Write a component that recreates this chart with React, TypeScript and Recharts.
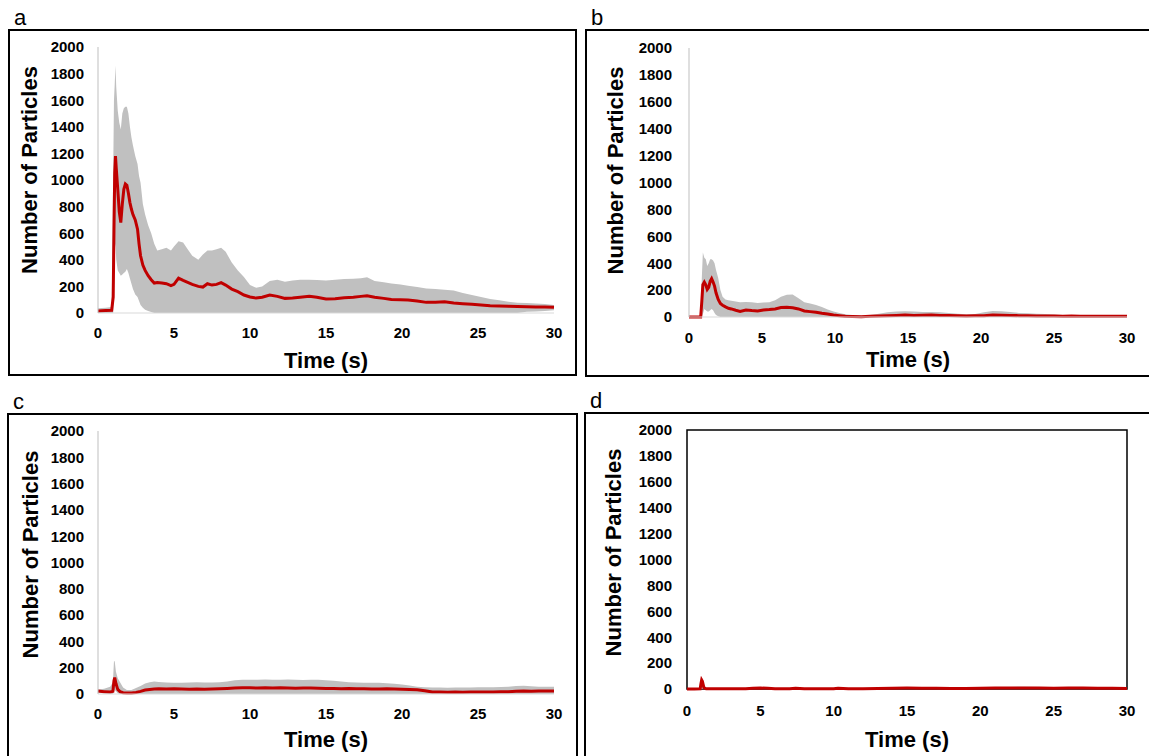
import React from 'react';
import { ComposedChart, Area, Line, XAxis, YAxis, Label, ReferenceArea } from 'recharts';

// panel a
const aTime = [
  0, 0.5, 0.9, 1.0, 1.05, 1.1, 1.15, 1.2, 1.3, 1.4,
  1.5, 1.6, 1.7, 1.8, 1.9, 2.0, 2.1, 2.2, 2.3, 2.45,
  2.6, 2.7, 2.8, 2.95, 3.1, 3.3, 3.5, 3.7, 3.9, 4.2,
  4.5, 4.8, 5.0, 5.3, 5.6, 5.9, 6.2, 6.6, 6.9, 7.2,
  7.5, 7.8, 8.1, 8.4, 8.8, 9.2, 9.6, 10.0, 10.4, 10.8,
  11.3, 11.8, 12.3, 12.8, 13.3, 13.9, 14.4, 15.0, 15.6, 16.2,
  16.8, 17.3, 17.7, 18.2, 18.8, 19.3, 19.9, 20.4, 21.0, 21.6,
  22.2, 22.8, 23.4, 24.0, 24.6, 25.2, 25.8, 26.4, 27.0, 27.6,
  28.2, 28.8, 29.4, 30.0,
];
const aMean = [
  15, 18, 20, 120, 620, 1050, 1180, 1090, 930, 760,
  680, 820, 930, 970, 960, 900, 830, 780, 740, 700,
  630, 520, 430, 360, 320, 280, 250, 225, 230, 225,
  220, 205, 215, 262, 245, 230, 215, 200, 195, 220,
  210, 215, 228, 210, 180, 160, 135, 120, 112, 118,
  135, 125, 110, 112, 118, 125, 118, 105, 108, 115,
  118, 125, 130, 118, 110, 102, 100, 98, 90, 80,
  80, 85, 75, 70, 65, 60, 55, 52, 50, 48,
  47, 45, 46, 43,
];
const aUpper = [
  35, 40, 45, 1050, 1600, 1720, 1860, 1700, 1520, 1430,
  1380, 1500, 1540, 1550, 1550, 1500, 1400, 1320, 1260, 1180,
  1120, 1030, 980, 820, 740, 660, 600, 520, 470, 480,
  490, 470, 500, 540, 530, 480, 430, 400, 440, 470,
  470, 480, 490, 460, 380, 320, 270, 210, 190, 200,
  240, 250, 235, 245, 250, 250, 248, 245, 250, 255,
  258, 262, 268, 240, 232, 222, 215, 205, 195, 185,
  180, 175, 170, 150, 135, 120, 105, 95, 85, 78,
  75, 72, 68, 60,
];
const aLower = [
  0, 0, 0, 0, 150, 480, 520, 400, 320, 300,
  280, 290, 300, 310, 330, 300, 260, 220, 180, 140,
  120, 90, 60, 40, 25, 15, 8, 0, 0, 0,
  0, 0, 0, 0, 0, 0, 0, 0, 0, 0,
  0, 0, 0, 0, 0, 0, 0, 0, 0, 0,
  0, 0, 0, 0, 0, 0, 0, 0, 0, 0,
  0, 0, 0, 0, 0, 0, 0, 0, 0, 0,
  0, 0, 0, 0, 0, 0, 0, 0, 0, 0,
  10, 12, 15, 20,
];

// panel b
const bTime = [
  0, 0.5, 0.8, 0.88, 0.95, 1.05, 1.15, 1.25, 1.35, 1.45,
  1.55, 1.65, 1.75, 1.85, 2.0, 2.15, 2.3, 2.5, 2.7, 2.9,
  3.2, 3.5, 3.9, 4.3, 4.7, 5.1, 5.5, 5.9, 6.3, 6.7,
  7.1, 7.5, 7.9, 8.3, 8.7, 9.1, 9.5, 9.9, 10.3, 10.7,
  11.2, 11.8, 12.4, 13.0, 13.6, 14.2, 14.8, 15.4, 16.0, 16.6,
  17.2, 17.8, 18.4, 19.0, 19.6, 20.2, 20.8, 21.4, 22.0, 22.6,
  23.2, 23.8, 24.4, 25.0, 25.6, 26.2, 26.8, 27.4, 28.0, 28.6, 29.3, 30.0,
];
const bMean = [
  0, 0, 0, 120, 240, 260, 240, 205, 220, 265,
  285, 260, 230, 180, 130, 100, 88, 75, 65, 60,
  50, 42, 52, 48, 45, 52, 55, 60, 70, 72,
  68, 60, 45, 40, 35, 28, 22, 15, 10, 5,
  3, 2, 5, 8, 10, 12, 14, 12, 13, 14,
  12, 12, 10, 8, 9, 10, 14, 13, 12, 10,
  9, 8, 8, 7, 6, 7, 6, 5, 5, 6, 5, 5,
];
const bUpper = [
  0, 0, 5, 300, 480, 440, 430, 380, 400, 430,
  430, 420, 400, 350, 290, 200, 150, 130, 125, 120,
  115, 110, 112, 110, 105, 108, 110, 125, 150, 165,
  168, 140, 110, 100, 90, 75, 55, 40, 30, 20,
  15, 12, 15, 25, 35, 40, 42, 40, 38, 38,
  35, 30, 25, 20, 22, 35, 45, 42, 38, 30,
  28, 25, 22, 18, 15, 14, 14, 12, 12, 12, 10, 10,
];
const bLower = [
  0, 0, 0, 0, 20, 60, 50, 40, 40, 50,
  60, 50, 30, 15, 5, 0, 0, 0, 0, 0,
  0, 0, 0, 0, 0, 0, 0, 0, 0, 0,
  0, 0, 0, 0, 0, 0, 0, 0, 0, 0,
  0, 0, 0, 0, 0, 0, 0, 0, 0, 0,
  0, 0, 0, 0, 0, 0, 0, 0, 0, 0,
  0, 0, 0, 0, 0, 0, 0, 0, 0, 0, 0, 0,
];

// panel c
const cTime = [
  0, 0.4, 0.8, 0.98, 1.05, 1.1, 1.18, 1.3, 1.45, 1.65,
  1.9, 2.2, 2.5, 2.8, 3.1, 3.4, 3.7, 4.0, 4.5, 5.0,
  5.5, 6.0, 6.5, 7.0, 7.5, 8.0, 8.5, 9.0, 9.5, 10.0,
  10.5, 11.0, 11.5, 12.0, 12.5, 13.0, 13.5, 14.0, 14.5, 15.0,
  15.5, 16.0, 16.5, 17.0, 17.5, 18.0, 18.5, 19.0, 19.5, 20.0,
  20.5, 21.0, 21.5, 22.0, 22.5, 23.0, 23.5, 24.0, 24.5, 25.0,
  25.5, 26.0, 26.5, 27.0, 27.5, 28.0, 28.5, 29.0, 29.5, 30.0,
];
const cMean = [
  22, 18, 15, 20, 100, 125, 80, 35, 18, 10,
  8, 8, 12, 20, 30, 35, 38, 40, 38, 40,
  38, 36, 38, 37, 38, 40, 42, 45, 48, 47,
  46, 48, 45, 47, 46, 44, 45, 46, 44, 42,
  42, 40, 41, 40, 40, 38, 38, 39, 38, 37,
  35, 32, 25, 16, 15, 14, 15, 14, 15, 15,
  16, 16, 17, 18, 20, 22, 20, 22, 23, 23,
];
const cUpper = [
  35, 40, 55, 90, 250, 250, 170, 120, 90, 50,
  30, 30, 45, 60, 80, 90, 95, 92, 88, 85,
  86, 88, 90, 88, 88, 90, 95, 105, 108, 108,
  108, 110, 108, 108, 110, 108, 106, 108, 108, 105,
  100, 95, 90, 88, 86, 85, 85, 82, 78, 72,
  65, 55, 52, 50, 50, 48, 50, 50, 50, 52,
  52, 52, 54, 56, 60, 62, 58, 55, 56, 55,
];
const cLower = [
  10, 5, 0, 0, 20, 30, 20, 5, 0, 0,
  0, 0, 0, 0, 0, 0, 0, 0, 0, 0,
  0, 0, 0, 0, 0, 0, 0, 0, 0, 0,
  0, 0, 0, 0, 0, 0, 0, 0, 0, 0,
  0, 0, 0, 0, 0, 0, 0, 0, 0, 0,
  0, 0, 0, 0, 0, 0, 0, 0, 0, 0,
  0, 0, 0, 0, 0, 0, 0, 0, 0, 0,
];

// panel d
const dTime = [
  0, 0.5, 0.9, 0.95, 1.0, 1.05, 1.15, 1.3, 2.0, 3.0,
  4.0, 4.5, 5.0, 5.5, 6.0, 7.0, 7.4, 8.0, 9.0, 10.0,
  10.3, 11.0, 12.0, 13.0, 14.0, 15.0, 16.0, 17.0, 18.0, 19.0,
  20.0, 21.0, 22.0, 23.0, 24.0, 25.0, 26.0, 27.0, 28.0, 29.0, 30.0,
];
const dMean = [
  0, 0, 2, 40, 70, 60, 10, 2, 1, 1,
  2, 6, 8, 5, 2, 2, 5, 1, 1, 2,
  6, 2, 2, 4, 6, 7, 6, 5, 3, 4,
  5, 7, 7, 8, 7, 6, 7, 8, 6, 5, 4,
];
const dUpper = [
  0, 0, 5, 70, 90, 80, 20, 5, 3, 3,
  4, 14, 16, 12, 4, 4, 10, 3, 3, 4,
  12, 4, 5, 10, 14, 15, 13, 10, 6, 8,
  12, 16, 16, 18, 15, 14, 15, 16, 13, 10, 8,
];
const dLower = [
  0, 0, 0, 0, 0, 0, 0, 0, 0, 0,
  0, 0, 0, 0, 0, 0, 0, 0, 0, 0,
  0, 0, 0, 0, 0, 0, 0, 0, 0, 0,
  0, 0, 0, 0, 0, 0, 0, 0, 0, 0, 0,
];

const xTicks = [0, 5, 10, 15, 20, 25, 30];
const yTicks = [0, 200, 400, 600, 800, 1000, 1200, 1400, 1600, 1800, 2000];

const FONT = '"Liberation Sans", Arial, sans-serif';
const RED = '#c00000';
const GREY = '#c0c0c0';

const makeRows = (time: number[], mean: number[], upper: number[], lower: number[]) =>
  time.map((t, i) => ({ t, mean: mean[i], band: [lower[i], upper[i]] }));

type PanelProps = {
  letter: string;
  rows: any[];
  box: { left: number; top: number; width: number; height: number };
  left: number;
  top: number;
  width: number;
  height: number;
  marginTop: number;
  marginRight: number;
  yWidth: number;
  xHeight: number;
  yTickMargin: number;
  xTickMargin: number;
  yLabelX: number;
  yLabelDy: number;
  xLabelOffset: number;
  framed?: boolean;
};

const Panel = (p: PanelProps) => {
  const tick = { fontFamily: FONT, fontSize: 15, fontWeight: 700, fill: '#000' };

  const yTitle = (props: any) => {
    const vb = props.viewBox || {};
    const cx = (vb.x || 0) + p.yLabelX;
    const cy = (vb.y || 0) + (vb.height || 0) / 2 + p.yLabelDy;
    return (
      <text
        x={cx}
        y={cy}
        transform={`rotate(-90 ${cx} ${cy})`}
        textAnchor="middle"
        dominantBaseline="central"
        fontFamily={FONT}
        fontSize={22}
        fontWeight={700}
        fill="#000"
      >
        Number of Particles
      </text>
    );
  };

  const xTitle = (props: any) => {
    const vb = props.viewBox || {};
    return (
      <text
        x={(vb.x || 0) + (vb.width || 0) / 2}
        y={(vb.y || 0) + (vb.height || 0) - p.xLabelOffset}
        textAnchor="middle"
        fontFamily={FONT}
        fontSize={22}
        fontWeight={700}
        fill="#000"
      >
        Time (s)
      </text>
    );
  };

  return (
    <>
      <div
        style={{
          position: 'absolute',
          left: p.box.left,
          top: p.box.top,
          width: p.box.width,
          height: p.box.height,
          border: '2px solid #000',
          boxSizing: 'border-box',
        }}
      />
      <div
        style={{
          position: 'absolute',
          left: p.box.left + 6,
          top: p.box.top - 22,
          fontFamily: FONT,
          fontSize: 22,
          lineHeight: '22px',
          color: '#000',
        }}
      >
        {p.letter}
      </div>
      <div style={{ position: 'absolute', left: p.left, top: p.top, width: p.width, height: p.height }}>
        <ComposedChart
          width={p.width}
          height={p.height}
          data={p.rows}
          margin={{ top: p.marginTop, right: p.marginRight, left: 0, bottom: 0 }}
        >
          <XAxis
            dataKey="t"
            type="number"
            domain={[0, 30]}
            ticks={xTicks}
            height={p.xHeight}
            tickLine={false}
            tickSize={0}
            tickMargin={p.xTickMargin}
            axisLine={p.framed ? false : { stroke: '#d9d9d9' }}
            tick={tick}
          >
            <Label content={xTitle} />
          </XAxis>
          <YAxis
            type="number"
            domain={[0, 2000]}
            ticks={yTicks}
            width={p.yWidth}
            tickLine={false}
            tickSize={0}
            tickMargin={p.yTickMargin}
            axisLine={p.framed ? false : { stroke: '#bfbfbf' }}
            tick={tick}
          >
            <Label content={yTitle} />
          </YAxis>
          {p.framed && (
            <ReferenceArea x1={0} x2={30} y1={0} y2={2000} fill="none" stroke="#000" strokeWidth={1.5} ifOverflow="visible" />
          )}
          <Area
            type="linear"
            dataKey="band"
            stroke="none"
            fill={GREY}
            fillOpacity={1}
            isAnimationActive={false}
          />
          <Line
            type="linear"
            dataKey="mean"
            stroke={RED}
            strokeWidth={3}
            dot={false}
            isAnimationActive={false}
          />
        </ComposedChart>
      </div>
    </>
  );
};

export default function App() {
  const aRows = makeRows(aTime, aMean, aUpper, aLower);
  const bRows = makeRows(bTime, bMean, bUpper, bLower);
  const cRows = makeRows(cTime, cMean, cUpper, cLower);
  const dRows = makeRows(dTime, dMean, dUpper, dLower);

  return (
    <div style={{ position: 'absolute', left: 0, top: 0, width: 1149, height: 756, overflow: 'hidden', background: '#fff' }}>
      <Panel
        letter="a"
        rows={aRows}
        box={{ left: 8, top: 29, width: 569, height: 347 }}
        left={8}
        top={29}
        width={570}
        height={346}
        marginTop={18}
        marginRight={24}
        yWidth={90}
        xHeight={62}
        yTickMargin={14}
        xTickMargin={14}
        yLabelX={21}
        yLabelDy={-10}
        xLabelOffset={7}
      />
      <Panel
        letter="b"
        rows={bRows}
        box={{ left: 585, top: 29, width: 570, height: 348 }}
        left={585}
        top={29}
        width={564}
        height={348}
        marginTop={19}
        marginRight={22}
        yWidth={104}
        xHeight={60}
        yTickMargin={17}
        xTickMargin={15}
        yLabelX={30}
        yLabelDy={-12}
        xLabelOffset={10}
      />
      <Panel
        letter="c"
        rows={cRows}
        box={{ left: 7, top: 413, width: 571, height: 400 }}
        left={8}
        top={413}
        width={570}
        height={343}
        marginTop={18}
        marginRight={24}
        yWidth={90}
        xHeight={62}
        yTickMargin={14}
        xTickMargin={14}
        yLabelX={22}
        yLabelDy={-8}
        xLabelOffset={9}
      />
      <Panel
        letter="d"
        rows={dRows}
        box={{ left: 584, top: 412, width: 570, height: 400 }}
        left={585}
        top={412}
        width={564}
        height={344}
        marginTop={18}
        marginRight={22}
        yWidth={102}
        xHeight={67}
        yTickMargin={15}
        xTickMargin={16}
        yLabelX={28}
        yLabelDy={-7}
        xLabelOffset={9}
        framed
      />
    </div>
  );
}
